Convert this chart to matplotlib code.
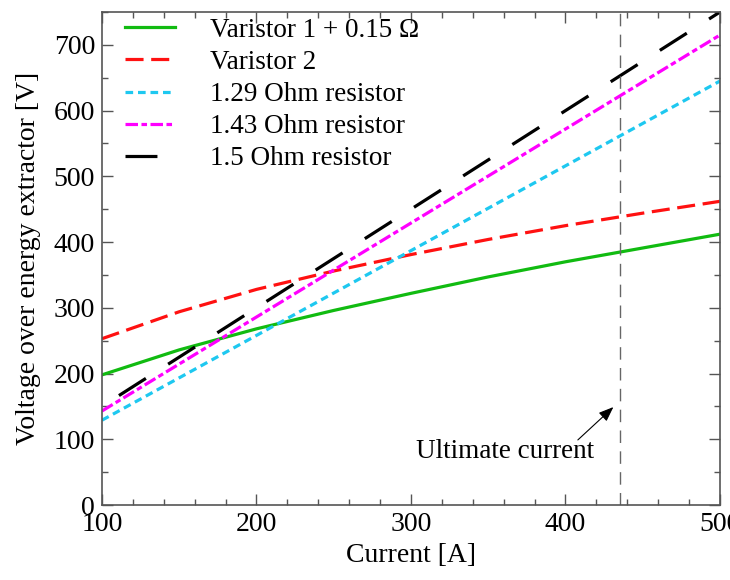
import matplotlib.pyplot as plt
from matplotlib.ticker import MultipleLocator

plt.rcParams['font.family'] = ['Liberation Serif', 'DejaVu Serif']
plt.rcParams['lines.scale_dashes'] = False

# current [A] and voltage [V]
current = [100, 150, 200, 250, 300, 350, 400, 450, 500]
varistor1 = [198, 236, 268, 296, 322, 347, 370, 391, 412]
varistor2 = [253, 294, 328, 356, 381, 404, 425, 444, 462]

current_lin = [100, 500]
r129 = [129, 645]
r143 = [143, 715]
r150 = [150, 750]

ultimate_current = 435

fig = plt.figure(figsize=(7.3, 5.8), dpi=100)
ax = fig.add_axes([0.1397, 0.1293, 0.8466, 0.85])

lw = 2.3
ax.plot(current, varistor1, color='#11bb11', lw=lw, label='Varistor 1 + 0.15 Ω')
ax.plot(current, varistor2, color='#ff1111', lw=lw, dashes=(13, 5.5), label='Varistor 2')
ax.plot(current_lin, r129, color='#1ec8f0', lw=lw, dashes=(5.5, 3.5), label='1.29 Ohm resistor')
ax.plot(current_lin, r143, color='#ff00ff', lw=lw, dashes=(9, 2.5, 4, 2.5), label='1.43 Ohm resistor')
ax.plot(current_lin, r150, color='black', lw=lw, ls=(27.5, (23, 19)), dash_capstyle='butt',
        label='1.5 Ohm resistor')

ax.axvline(ultimate_current, color='#666666', lw=1.0, dashes=(9, 6))
ax.annotate('', xy=(431, 149), xytext=(408, 99),
            arrowprops=dict(arrowstyle='-|>,head_length=0.9,head_width=0.35',
                            color='black', lw=0.8, shrinkA=0, shrinkB=0))
ax.text(361, 81, 'Ultimate current', ha='center', va='center', fontsize=19.5)

ax.set_xlim(100, 500)
ax.set_ylim(0, 750)
ax.xaxis.set_major_locator(MultipleLocator(100))
ax.xaxis.set_minor_locator(MultipleLocator(20))
ax.yaxis.set_major_locator(MultipleLocator(100))
ax.yaxis.set_minor_locator(MultipleLocator(50))
ax.tick_params(which='both', direction='in', top=True, right=True, colors='#555555',
               labelcolor='black', labelsize=20)
ax.tick_params(which='major', length=8, width=1, pad=5)
ax.tick_params(which='minor', length=4.5, width=1)
for s in ax.spines.values():
    s.set_color('#555555')
    s.set_linewidth(1.2)

ax.set_xlabel('Current [A]', fontsize=20, labelpad=4)
ax.set_ylabel('Voltage over energy extractor [V]', fontsize=20, labelpad=9)

leg = ax.legend(loc='upper left', frameon=False, fontsize=19.5, handlelength=1.85,
                handletextpad=1.3, labelspacing=0.26, borderaxespad=0, borderpad=0.4,
                bbox_to_anchor=(0.019, 1.01))
leg.get_lines()[4].set_linestyle((0, (23, 19)))

fig.savefig('out.png', dpi=100)
